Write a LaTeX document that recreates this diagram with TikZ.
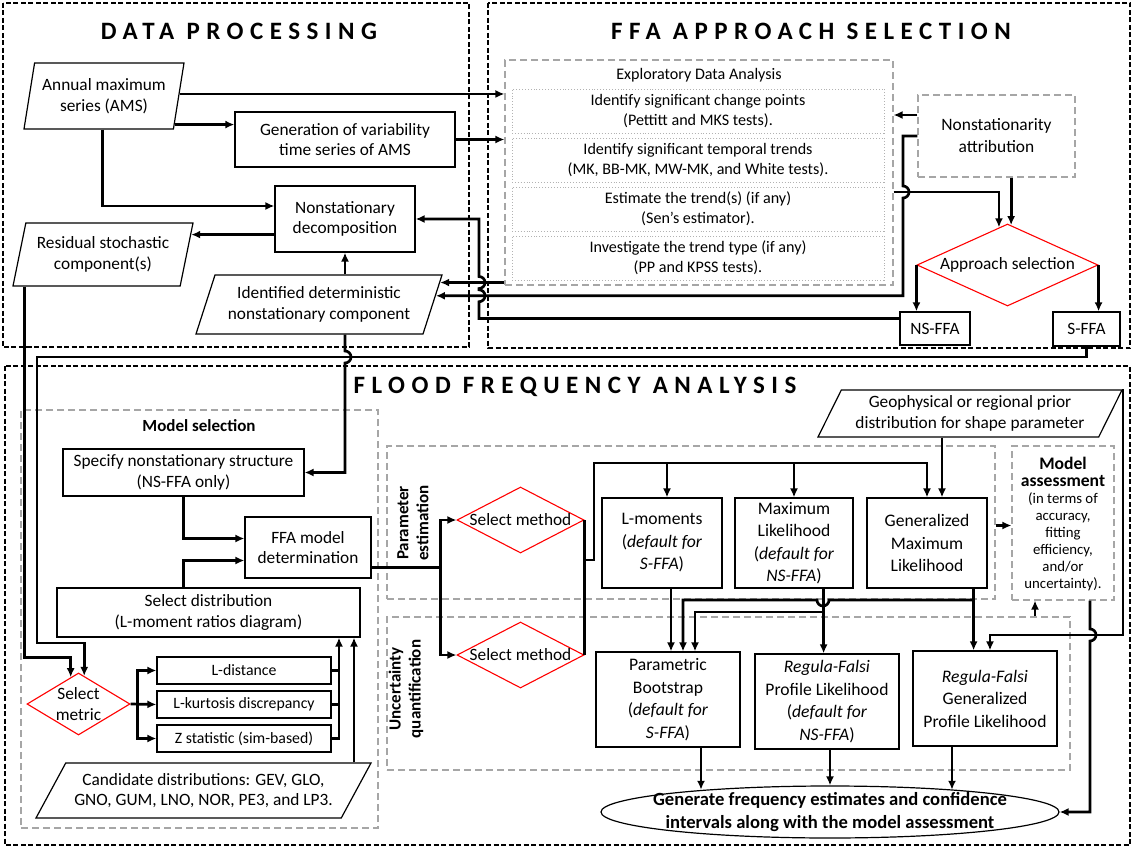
\documentclass[tikz,border=0pt]{standalone}
\usepackage{fontspec}
\setmainfont{Carlito}
\usetikzlibrary{arrows.meta,calc,shapes.geometric}

\tikzset{
  arr/.style={-{Latex[length=9pt,width=8pt]},line width=2.7pt},
  wire/.style={line width=2.7pt},
}

\begin{document}
\begin{tikzpicture}[x=1pt,y=-1pt,
    txt/.style={font=\fontsize{17.3}{20.5}\selectfont,align=center},
    proc/.style={txt,draw,line width=1.2pt,inner sep=1pt},
    fbox/.style={proc,font=\fontsize{17.6}{22.5}\selectfont},
    sbox/.style={proc,font=\fontsize{15.8}{19}\selectfont},
    edabox/.style={txt,font=\fontsize{16.1}{20}\selectfont},
    datab/.style 2 args={txt,draw,line width=1.2pt,trapezium,
        trapezium left angle=#1,trapezium right angle=#2,
        trapezium stretches body,inner sep=1pt},
    choice/.style={txt,draw=red,line width=1.1pt,diamond,inner sep=0pt},
    frame/.style={draw,line width=1.8pt,dash pattern=on 5pt off 2.5pt},
    grayframe/.style={draw=gray!70,line width=1.1pt,dash pattern=on 7pt off 4pt},
    dotframe/.style={draw=gray!60,line width=.9pt,dotted},
    ttl/.style={font=\fontsize{25}{30}\selectfont\bfseries\addfontfeature{LetterSpace=26}},
    hd/.style={txt,font=\fontsize{17}{20}\selectfont\bfseries},
    ]

    \fill[white] (0,0) rectangle (1133,848);
    \useasboundingbox (0,0) rectangle (1133,848);

    % Frames
    \draw[frame] (3,3) rectangle (469,347);
    \draw[frame] (488,3) rectangle (1130,348);
    \draw[frame] (5,366) rectangle (1130,845);

    % Data processing
    \node[ttl] (tdp) at (239,31) {DATA PROCESSING};
    \node[datab={74}{106},minimum width=160pt,minimum height=66pt] (ams) at (104,96) {Annual maximum\\series (AMS)};
    \node[proc,minimum width=220pt,minimum height=55pt] (gen) at (345,139.5) {Generation of variability\\time series of AMS};
    \node[proc,minimum width=140pt,minimum height=66pt] (nsd) at (345,219) {Nonstationary\\decomposition};
    \node[datab={71}{109},minimum width=180pt,minimum height=63pt] (res) at (103,254.5) {Residual stochastic\\component(s)};
    \node[datab={63}{117},minimum width=246pt,minimum height=59pt] (ident) at (319,304.5) {Identified deterministic\\nonstationary component};

    % FFA approach selection
    \node[ttl] (tfa) at (811,31) {FFA APPROACH SELECTION};
    \node[grayframe,minimum width=388pt,minimum height=225pt] (eda) at (699,172.5) {};
    \node[edabox] (edat) at (699,75) {Exploratory Data Analysis};
    \node[dotframe,edabox,minimum width=372pt,minimum height=44pt] (cp) at (698,111) {Identify significant change points\\(Pettitt and MKS tests).};
    \node[dotframe,edabox,minimum width=372pt,minimum height=44pt] (tt) at (698,160) {Identify significant temporal trends\\(MK, BB-MK, MW-MK, and White tests).};
    \node[dotframe,edabox,minimum width=372pt,minimum height=44pt] (et) at (698,209) {Estimate the trend(s) (if any)\\(Sen’s estimator).};
    \node[dotframe,edabox,minimum width=372pt,minimum height=44pt] (ty) at (698,258) {Investigate the trend type (if any)\\(PP and KPSS tests).};
    \node[grayframe,txt,font=\fontsize{17.4}{22}\selectfont,minimum width=157pt,minimum height=82pt] (nsa) at (996.5,136) {Nonstationarity\\attribution};
    \node[choice,minimum width=181pt,minimum height=82pt,aspect=2.2] (aps) at (1007.5,265) {Approach selection};
    \node[proc,minimum width=70pt,minimum height=33pt] (nsffa) at (935,328.5) {NS-FFA};
    \node[proc,minimum width=67pt,minimum height=34pt] (sffa) at (1086.5,329) {S-FFA};

    % Flood frequency analysis
    \node[ttl] (tffa) at (575,387) {FLOOD FREQUENCY ANALYSIS};
    \node[grayframe,minimum width=357pt,minimum height=418pt] (msel) at (199.5,619) {};
    \node[hd] (mselt) at (199,426) {Model selection};
    \node[proc,minimum width=241pt,minimum height=47pt] (spec) at (183.5,472.5) {Specify nonstationary structure\\(NS-FFA only)};
    \node[proc,minimum width=126pt,minimum height=61pt] (fmd) at (308,547.5) {FFA model\\determination};
    \node[proc,minimum width=303pt,minimum height=49pt] (sdist) at (208.5,612.5) {Select distribution\\(L-moment ratios diagram)};
    \node[sbox,minimum width=174pt,minimum height=27pt] (ld) at (244,670.5) {L-distance};
    \node[sbox,minimum width=174pt,minimum height=27pt] (lk) at (244,704.5) {L-kurtosis discrepancy};
    \node[sbox,minimum width=174pt,minimum height=27pt] (zs) at (244,738.5) {Z statistic (sim-based)};
    \node[choice,minimum width=103pt,minimum height=62pt,aspect=1.66] (smet) at (78.5,704) {Select\\metric};
    \node[datab={51}{129},minimum width=335pt,minimum height=55pt] (cand) at (203.5,790.5) {Candidate distributions: GEV, GLO,\\GNO, GUM, LNO, NOR, PE3, and LP3.};

    \node[grayframe,minimum width=608pt,minimum height=153pt] (pest) at (691,522.5) {};
    \node[grayframe,minimum width=683pt,minimum height=153pt] (uq) at (728.5,693.5) {};
    \node[hd,rotate=90] (pestl) at (413,523) {Parameter\\estimation};
    \node[hd,rotate=90] (uql) at (406,689) {Uncertainty\\quantification};
    \node[choice,minimum width=127pt,minimum height=66pt,aspect=1.92] (sm1) at (520.5,520) {Select method};
    \node[choice,minimum width=127pt,minimum height=66pt,aspect=1.92] (sm2) at (520.5,655) {Select method};
    \node[fbox,minimum width=120pt,minimum height=90pt] (lmom) at (662,543) {L-moments\\(\textit{default for}\\\textit{S-FFA})};
    \node[fbox,minimum width=118pt,minimum height=90pt] (ml) at (794,543) {Maximum\\Likelihood\\(\textit{default for}\\\textit{NS-FFA})};
    \node[fbox,minimum width=120pt,minimum height=90pt] (gml) at (927,543) {Generalized\\Maximum\\Likelihood};
    \node[datab={58}{122},minimum width=304pt,minimum height=47pt] (geo) at (970,413.5) {Geophysical or regional prior\\distribution for shape parameter};
    \node[grayframe,minimum width=102pt,minimum height=154pt] (mass) at (1063,523) {};
    \node[txt,font=\fontsize{14.8}{17}\selectfont] (masst) at (1063,524) {\textbf{\fontsize{17.6}{20}\selectfont Model}\\\textbf{\fontsize{17.6}{20}\selectfont assessment}\\(in terms of\\accuracy,\\fitting\\efficiency,\\and/or\\uncertainty).};
    \node[fbox,minimum width=144pt,minimum height=95pt] (pb) at (668,699.5) {Parametric\\Bootstrap\\(\textit{default for}\\\textit{S-FFA})};
    \node[fbox,minimum width=144pt,minimum height=95pt] (rfp) at (827,701.5) {\textit{Regula-Falsi}\\Profile Likelihood\\(\textit{default for}\\\textit{NS-FFA})};
    \node[fbox,minimum width=144pt,minimum height=95pt] (rfg) at (985,698.5) {\textit{Regula-Falsi}\\Generalized\\Profile Likelihood};
    \node[draw,line width=1.2pt,ellipse,minimum width=458pt,minimum height=52pt] (est) at (830,812) {};
    \node[txt,font=\fontsize{18.6}{23}\selectfont\bfseries] (estt) at (est) {Generate frequency estimates and confidence\\intervals along with the model assessment};

    % Data processing links
    \coordinate (amsup) at ($(ams.right side)!0.06!(ams.top right corner)$);
    \coordinate (amsout) at ($(ams.right side)!0.85!(ams.bottom right corner)$);
    \coordinate (resin) at ($(res.right side)!0.62!(res.top right corner)$);
    \draw[arr] (amsup) -- (amsup -| eda.west);
    \draw[arr] (amsout) -- (amsout -| gen.west);
    \draw[arr] (gen.east) -- (gen.east -| eda.west);
    \draw[arr] ([xshift=4pt]ams.bottom side) |- ([yshift=13pt]nsd.west);
    \draw[arr] (nsd.west |- resin) -- (resin);
    \draw[arr] (nsd.south |- ident.north) -- (nsd.south);

    % Approach selection links
    \coordinate (identin1) at ($(ident.right side)!0.73!(ident.top right corner)$);
    \coordinate (identin2) at ($(ident.right side)!0.29!(ident.top right corner)$);
    \coordinate (busx) at (479,0);
    \coordinate (hopA) at (903,192);
    \coordinate (apl) at ($(aps.north)!0.094!(aps.west)$);
    \coordinate (apr) at ($(aps.north)!0.04!(aps.east)$);
    \draw[arr] (eda.west |- identin1) -- (identin1);
    \draw[arr] ([yshift=21pt]nsa.west) -- ([yshift=21pt]nsa.west -| eda.east);
    \draw[arr] (eda.east |- hopA) -| (apl);
    \draw[arr] (nsa.west) -| ([yshift=6pt]hopA) arc[start angle=90,end angle=-90,radius=6pt] |- (identin2);
    \draw[arr] (nsa.south -| apr) -- (apr);
    \draw[arr] (aps.west) -- (aps.west |- nsffa.north);
    \draw[arr] (aps.east) -- (aps.east |- sffa.north);
    \draw[arr] ([yshift=10pt]nsffa.west) -| ([yshift=-6pt]identin2 -| busx)
        arc[start angle=-90,end angle=90,radius=6pt] -- ([yshift=-6pt]identin1 -| busx)
        arc[start angle=-90,end angle=90,radius=6pt] |- (nsd.east);

    % Model selection links
    \coordinate (sbus) at (37,357);
    \coordinate (sturn) at (37,643);
    \coordinate (sml) at ($(smet.north)!0.15!(smet.west)$);
    \coordinate (smr) at ($(smet.north)!0.11!(smet.east)$);
    \coordinate (mcol) at (339,0);
    \coordinate (ccol) at (354,0);
    \draw[arr] (sffa.south) |- (sbus) -- (sturn) -| (smr);
    \draw[arr] ([xshift=12pt]res.bottom left corner) -- ++(0,371) -| (sml);
    \draw[arr] (nsd.south |- ident.south) -- ([yshift=6pt]nsd.south |- sbus)
        arc[start angle=90,end angle=-90,radius=6pt] |- (spec.east);
    \draw[arr] (spec.south) |- ([yshift=9pt]fmd.west);
    \draw[arr] ([xshift=-25pt]sdist.north) |- ([yshift=-13pt]fmd.west);
    \draw[arr] (smet.east) -- (lk.west);
    \draw[arr] ([xshift=-19pt]lk.west) |- (ld.west);
    \draw[arr] ([xshift=-19pt]lk.west) |- (zs.west);
    \draw[wire] (ld.east) -| (mcol |- zs.east);
    \draw[wire] (lk.east) -- (lk.east -| mcol);
    \draw[arr] (zs.east) -| (mcol |- sdist.south);
    \draw[arr] (ccol |- cand.north) -- (ccol |- sdist.south);

    % Parameter estimation links
    \coordinate (smj) at (584,560);
    \coordinate (pbus) at (594,463);
    \draw[arr] ([yshift=-20pt]fmd.east) -| ([xshift=-16pt]sm1.west) -- (sm1.west);
    \draw[arr] ([xshift=-16pt]sm1.west) |- (sm2.west);
    \draw[wire] (sm1.east) -- (sm2.east);
    \draw[arr] (smj) -| (pbus) -| (gml.north);
    \draw[arr] ([xshift=5pt]lmom.north |- pbus) -- ([xshift=5pt]lmom.north);
    \draw[arr] (ml.north |- pbus) -- (ml.north);
    \draw[arr] ([xshift=15pt]gml.north |- geo.south) -- ([xshift=15pt]gml.north);
    \draw[arr] ([yshift=-3pt]pest.east) -- ([yshift=-3pt]pest.east -| mass.west);
    \draw[arr] ([xshift=-28pt]mass.south |- uq.north) -- ([xshift=-28pt]mass.south);

    % Uncertainty links
    \coordinate (mlout) at ([xshift=-30pt]ml.south east);
    \coordinate (gmlout) at ([xshift=-14pt]gml.south east);
    \coordinate (hopD) at (823,600);
    \coordinate (mlj) at (823,612);
    \coordinate (gturn) at (1122,635);
    \draw[arr] ([xshift=9pt]lmom.south) -- ([xshift=9pt]lmom.south |- pb.north);
    \draw[arr] (mlout) -- (mlout |- rfp.north);
    \draw[arr] (gmlout) -- (gmlout |- rfg.north);
    \draw[arr] (gmlout |- hopD) -- ([xshift=6pt]hopD)
        arc[start angle=0,end angle=-180,radius=6pt] -| ([xshift=15pt]pb.north);
    \draw[arr] (mlj) -| ([xshift=27pt]pb.north);
    \draw[arr] (geo.top right corner) -- (geo.top right corner |- gturn) -| ([xshift=5pt]rfg.north);
    \draw[arr] ([xshift=27pt]mass.south) -- ([xshift=27pt,yshift=6pt]mass.south |- gturn)
        arc[start angle=90,end angle=-90,radius=6pt] |- (est.east);

    % Estimates
    \draw[arr] ([xshift=33pt]pb.south) -- ([xshift=33pt]pb.south |- est.170);
    \draw[arr] ([xshift=3pt]rfp.south) -- ([xshift=3pt]rfp.south |- est.north);
    \draw[arr] ([xshift=-33pt]rfg.south) -- ([xshift=-33pt]rfg.south |- est.10);

\end{tikzpicture}
\end{document}
